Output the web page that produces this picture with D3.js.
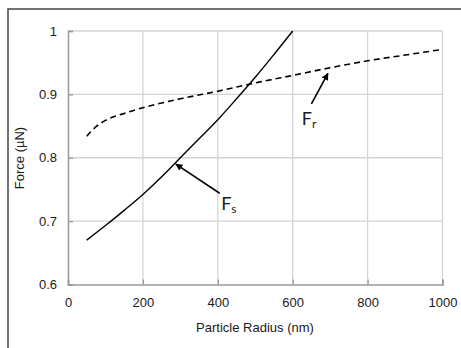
<!DOCTYPE html>
<html>
<head>
<meta charset="utf-8">
<script src="https://cdn.jsdelivr.net/npm/d3@7"></script>
<style>
  body { margin: 0; background: #fff; }
  text { font-family: "Liberation Sans", Arial, sans-serif; }
</style>
</head>
<body>
<svg id="chart" width="461" height="348"></svg>
<script>
// data
const fsRadius = [50, 100, 150, 200, 250, 300, 350, 400, 450, 500, 550, 600];
const fsForce = [0.67, 0.693, 0.717, 0.742, 0.77, 0.80, 0.83, 0.86, 0.893, 0.927, 0.963, 1.0];
const frRadius = [50, 75, 100, 150, 200, 300, 400, 500, 600, 700, 800, 900, 1000];
const frForce = [0.834, 0.849, 0.859, 0.870, 0.879, 0.893, 0.905, 0.918, 0.930, 0.942, 0.953, 0.962, 0.971];
const xTicks = [0, 200, 400, 600, 800, 1000];
const yTicks = [0.6, 0.7, 0.8, 0.9, 1];

// annotations in data units
const notes = [
  { main: "F", sub: "s", lab: [409, 0.7176], tail: [405, 0.744], tip: [288, 0.79] },
  { main: "F", sub: "r", lab: [624, 0.852], tail: [650, 0.885], tip: [694, 0.933] }
];

const svg = d3.select("#chart");
const x = d3.scaleLinear().domain([0, 1000]).range([68, 442.5]);
const y = d3.scaleLinear().domain([0.6, 1]).range([284.5, 31]);

// outer frame (top + left)
svg.append("path")
  .attr("d", "M8,348V9H461")
  .attr("fill", "none")
  .attr("stroke", "#444")
  .attr("stroke-width", 1.5);

const defs = svg.append("defs");
defs.append("marker")
  .attr("id", "arrow")
  .attr("viewBox", "0 0 10 10")
  .attr("refX", 9).attr("refY", 5)
  .attr("markerWidth", 4.5).attr("markerHeight", 4.5)
  .attr("orient", "auto")
  .append("path")
  .attr("d", "M0,0L10,5L0,10z")
  .attr("fill", "#000");

// grid
const grid = svg.append("g");
grid.selectAll(".gx").data(xTicks.slice(1)).enter().append("line")
  .attr("x1", d => x(d)).attr("x2", d => x(d))
  .attr("y1", y(1)).attr("y2", y(0.6))
  .attr("stroke", "#d4d4d4").attr("stroke-width", 1.3);
grid.selectAll(".gy").data(yTicks.slice(1)).enter().append("line")
  .attr("x1", x(0)).attr("x2", x(1000))
  .attr("y1", d => y(d)).attr("y2", d => y(d))
  .attr("stroke", "#d4d4d4").attr("stroke-width", 1.3);

// axes
const xAxis = svg.append("g")
  .attr("transform", `translate(0,${y(0.6)})`)
  .call(d3.axisBottom(x).tickValues(xTicks).tickSize(-5).tickPadding(13).tickFormat(d3.format("d")));
const yAxis = svg.append("g")
  .attr("transform", `translate(${x(0)},0)`)
  .call(d3.axisLeft(y).tickValues(yTicks).tickSize(-5).tickPadding(11).tickFormat(d => d === 1 ? "1" : d3.format(".1f")(d)));
[xAxis, yAxis].forEach(g => {
  g.select(".domain").attr("stroke", "#999").attr("stroke-width", 1.5);
  g.selectAll(".tick line").attr("stroke", "#999").attr("stroke-width", 1.3);
  g.selectAll(".tick text").attr("fill", "#1a1a1a").style("font-size", "13px")
    .style("font-family", "'Liberation Sans', Arial, sans-serif");
});
xAxis.selectAll(".tick:first-child line").remove();
yAxis.selectAll(".tick:first-child line").remove();

// axis titles
svg.append("text")
  .attr("x", 255).attr("y", 332)
  .attr("text-anchor", "middle")
  .attr("fill", "#1a1a1a")
  .style("font-size", "13px")
  .text("Particle Radius (nm)");
svg.append("text")
  .attr("transform", "translate(24,158) rotate(-90)")
  .attr("text-anchor", "middle")
  .attr("fill", "#1a1a1a")
  .style("font-size", "13px")
  .text("Force (\u00b5N)");

// curves
const line = d3.line().x(d => x(d[0])).y(d => y(d[1])).curve(d3.curveMonotoneX);
svg.append("path")
  .datum(d3.zip(fsRadius, fsForce))
  .attr("d", line)
  .attr("fill", "none").attr("stroke", "#000").attr("stroke-width", 1.4);
svg.append("path")
  .datum(d3.zip(frRadius, frForce))
  .attr("d", line)
  .attr("fill", "none").attr("stroke", "#000").attr("stroke-width", 1.6)
  .attr("stroke-dasharray", "6,4");

// annotations
notes.forEach(n => {
  svg.append("line")
    .attr("x1", x(n.tail[0])).attr("y1", y(n.tail[1]))
    .attr("x2", x(n.tip[0])).attr("y2", y(n.tip[1]))
    .attr("stroke", "#000").attr("stroke-width", 1.6)
    .attr("marker-end", "url(#arrow)");
  const t = svg.append("text")
    .attr("x", x(n.lab[0])).attr("y", y(n.lab[1]))
    .attr("fill", "#1a1a2e")
    .style("font-family", "Lato, 'Open Sans', sans-serif")
    .style("font-size", "18px");
  t.append("tspan").text(n.main);
  t.append("tspan").attr("dy", 3).style("font-size", "12px").text(n.sub);
});
</script>
</body>
</html>
